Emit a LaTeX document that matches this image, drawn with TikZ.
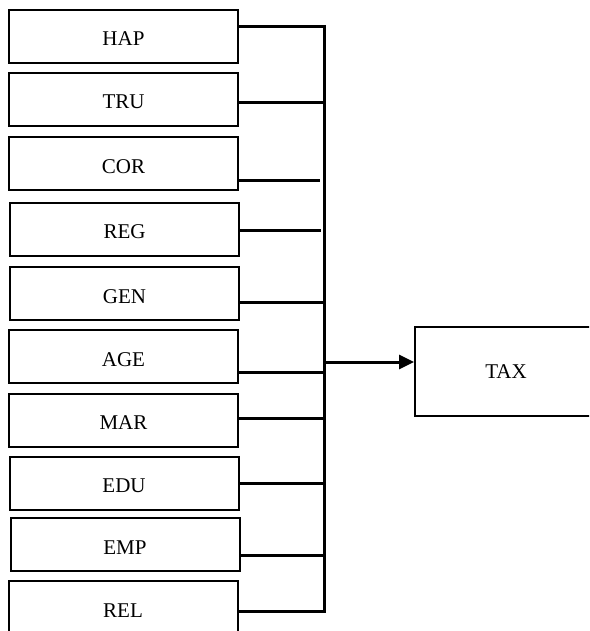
\documentclass[tikz,border=0pt]{standalone}
\usepackage{fontspec}
\setmainfont{Liberation Serif}
\usetikzlibrary{arrows.meta}
\begin{document}
\begin{tikzpicture}[x=1pt,y=-1pt,
  lbl/.style={font=\fontsize{21}{23}\selectfont},
  varbox/.style={draw,line width=2pt,minimum width=229pt,minimum height=53pt,inner sep=0pt,lbl,text height=19pt,text depth=0pt},
  conn/.style={line width=3pt},
  bus/.style={line width=3pt}]
\useasboundingbox (0,0) rectangle (589,631);
\clip (0,0) rectangle (589,631);
\node[varbox] (hap) at (123.5,36.5) {HAP};
\node[varbox] (tru) at (123.5,99.5) {TRU};
\node[varbox] (cor) at (123.5,163.5) {COR};
\node[varbox] (reg) at (124.5,229) {REG};
\node[varbox] (gen) at (124.5,293.5) {GEN};
\node[varbox] (age) at (123.5,356.5) {AGE};
\node[varbox] (mar) at (123.5,420) {MAR};
\node[varbox] (edu) at (124,483) {EDU};
\node[varbox] (emp) at (125,544.5) {EMP};
\node[varbox] (rel) at (123,607.5) {REL};
\node[draw,line width=2pt,minimum width=182pt,minimum height=89pt,inner sep=0pt,lbl] (tax) at (506,371.5) {TAX};
\coordinate (bt) at (324,25);
\coordinate (bb) at (324,612);
\draw[bus] (bt) -- (bb);
\coordinate (b1) at (324,27);
\coordinate (b2) at (324,103);
\coordinate (b3) at (320,180);
\coordinate (b4) at (321,230);
\coordinate (b5) at (324,302);
\coordinate (b6) at (324,372);
\coordinate (b7) at (324,418);
\coordinate (b8) at (324,483);
\coordinate (b9) at (324,555);
\coordinate (b10) at (325.5,611);
\draw[conn] (hap.east |- b1) -- (b1);
\draw[conn] (tru.east |- b2) -- (b2);
\draw[conn] (cor.east |- b3) -- (b3);
\draw[conn] (reg.east |- b4) -- (b4);
\draw[conn] (gen.east |- b5) -- (b5);
\draw[conn] (age.east |- b6) -- (b6);
\draw[conn] (mar.east |- b7) -- (b7);
\draw[conn] (edu.east |- b8) -- (b8);
\draw[conn] (emp.east |- b9) -- (b9);
\draw[conn] (rel.east |- b10) -- (b10);
\coordinate (ba) at (324,362);
\draw[conn,-{Triangle[length=15pt,width=14pt]}] (ba) -- (tax.west |- ba);
\end{tikzpicture}
\end{document}
